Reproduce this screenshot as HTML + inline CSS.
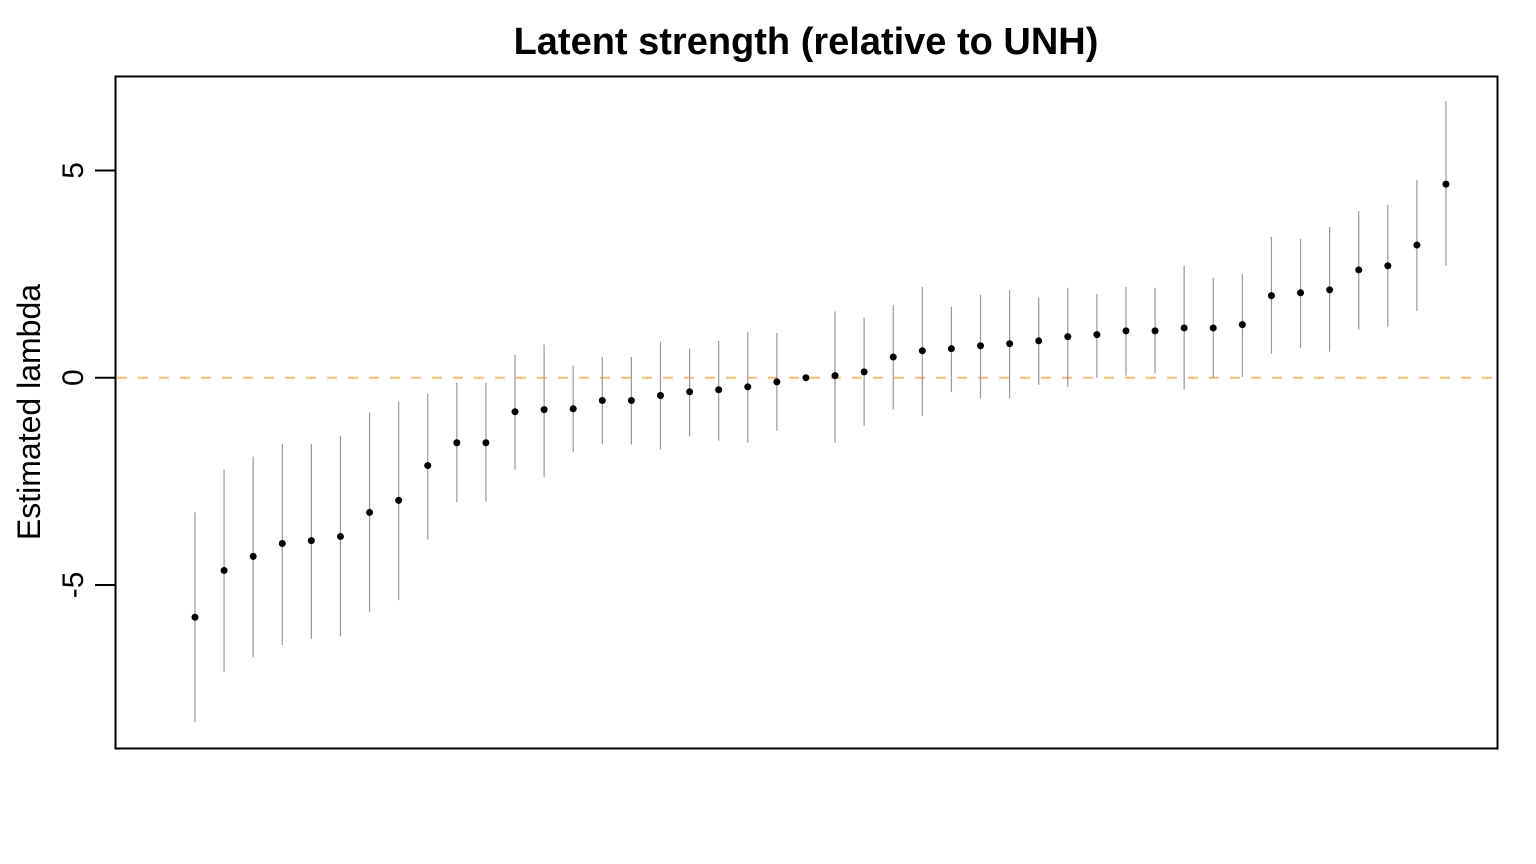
<!DOCTYPE html>
<html><head><meta charset="utf-8"><style>
body{margin:0;background:#fff}
svg{display:block;font-family:"Liberation Sans",Arial,sans-serif}
</style></head><body>
<svg id="chart" width="1536" height="864">
<text x="806" y="54" text-anchor="middle" font-size="38" font-weight="bold">Latent strength (relative to UNH)</text>
<text transform="translate(40,412) rotate(-90)" text-anchor="middle" font-size="32">Estimated lambda</text>
<rect x="115.5" y="76.5" width="1382" height="672" fill="none" stroke="#000" stroke-width="2"/>
<g id="yaxis"></g>
<line id="ref" stroke="#f0c07a" stroke-width="2" stroke-dasharray="10,11"/>
<g id="marks"></g>
</svg>
<script>
const estimates=[-5.78,-4.65,-4.31,-4.0,-3.93,-3.83,-3.25,-2.96,-2.12,-1.57,-1.57,-0.82,-0.77,-0.75,-0.55,-0.55,-0.43,-0.34,-0.29,-0.22,-0.1,0,0.05,0.14,0.5,0.65,0.7,0.77,0.82,0.89,0.99,1.04,1.13,1.13,1.2,1.2,1.28,1.98,2.05,2.12,2.6,2.7,3.2,4.67];
const upper=[-3.25,-2.22,-1.9,-1.6,-1.6,-1.4,-0.84,-0.58,-0.39,-0.12,-0.12,0.55,0.8,0.29,0.5,0.5,0.87,0.7,0.89,1.1,1.08,0,1.6,1.45,1.76,2.19,1.71,2.0,2.12,1.93,2.17,2.02,2.19,2.17,2.7,2.41,2.5,3.4,3.35,3.64,4.02,4.17,4.77,6.67];
const lower=[-8.31,-7.1,-6.75,-6.45,-6.3,-6.24,-5.66,-5.37,-3.9,-3.0,-2.99,-2.22,-2.39,-1.8,-1.61,-1.61,-1.73,-1.42,-1.52,-1.57,-1.28,0,-1.57,-1.16,-0.77,-0.92,-0.34,-0.5,-0.5,-0.17,-0.22,0,0.05,0.1,-0.29,0,0.02,0.58,0.72,0.63,1.16,1.23,1.61,2.7];
const yTicks=[-5,0,5];
const yTickLabels=["-5","0","5"];

const NS="http://www.w3.org/2000/svg";
const X0=115,X1=1497;
const y=v=>377.7-v*41.45;
const n=estimates.length;
const x=i=>195+i*(1446-195)/(n-1);
function mk(t,a,p){const e=document.createElementNS(NS,t);for(const k in a)e.setAttribute(k,a[k]);p.appendChild(e);return e;}
const ya=document.getElementById('yaxis');
yTicks.forEach((v,i)=>{
  const l=mk('line',{x1:95,x2:115,y1:y(v),y2:y(v),stroke:'#000','stroke-width':2},ya);
  
  
  const t=mk('text',{transform:`translate(83,${y(v)}) rotate(-90)`,'text-anchor':'middle','font-size':30},ya);
  t.textContent=yTickLabels[i];
  
  
});
const r=document.getElementById('ref');
r.setAttribute('x1',X0+2);r.setAttribute('x2',X1-1);r.setAttribute('y1',y(0));r.setAttribute('y2',y(0));
const g=document.getElementById('marks');
estimates.forEach((v,i)=>{
  if(upper[i]!==lower[i]){
    const l=mk('line',{x1:x(i),x2:x(i),y1:y(upper[i]),y2:y(lower[i]),stroke:'#999','stroke-width':1.2},g);
    
    
  }
  const c=mk('circle',{cx:x(i),cy:y(v),r:3.5,fill:'#000'},g);
  
  
});
</script>
</body></html>
